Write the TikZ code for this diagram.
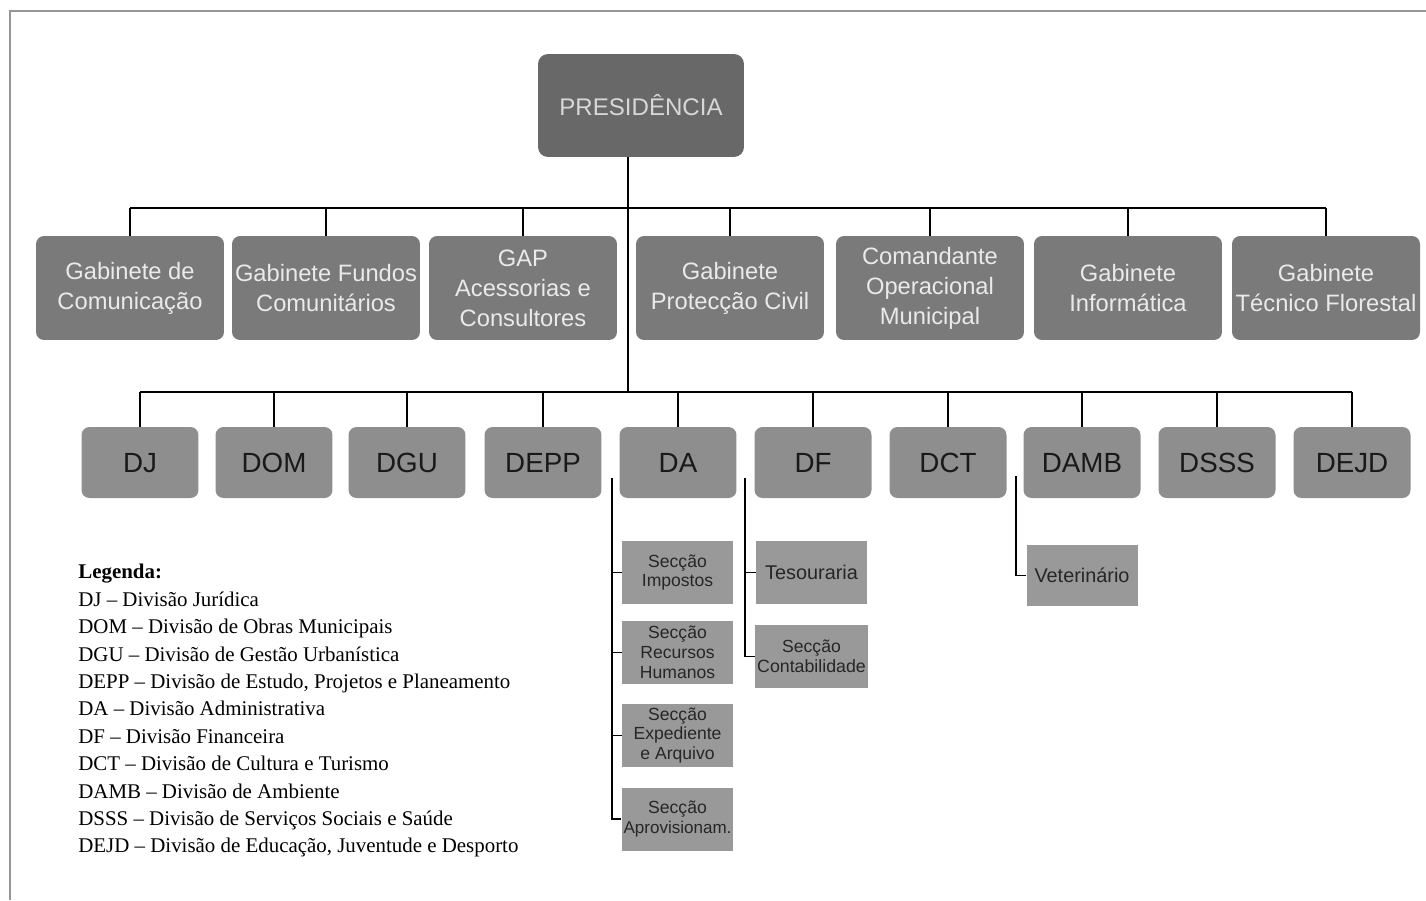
\documentclass[tikz,border=0pt]{standalone}
\usepackage{fontspec}
\setmainfont{Liberation Serif}
\setsansfont{Liberation Sans}
\definecolor{presfill}{RGB}{104,104,104}
\definecolor{gabfill}{RGB}{122,122,122}
\definecolor{divfill}{RGB}{142,142,142}
\definecolor{secfill}{RGB}{153,153,153}
\definecolor{lighttext}{RGB}{234,234,234}
\definecolor{framegray}{RGB}{150,150,150}
\tikzset{
  presbox/.style={fill=presfill, rounded corners=0.2cm, minimum width=4.12cm, minimum height=2.06cm,
    text=lighttext!92!black, font=\sffamily\fontsize{13.7}{16}\selectfont},
  gabbox/.style={fill=gabfill, rounded corners=0.16cm, minimum width=3.76cm, minimum height=2.08cm,
    inner sep=1pt, align=center, text=lighttext, font=\sffamily\fontsize{13.5}{17}\selectfont},
  divbox/.style={fill=divfill, rounded corners=0.16cm, minimum width=2.34cm, minimum height=1.42cm,
    text height=1.1em, text depth=0pt, text=black!90, font=\sffamily\fontsize{15.8}{18}\selectfont},
  secbox/.style={fill=secfill, minimum width=2.22cm, minimum height=1.26cm, inner sep=1pt,
    align=center, text=black!85, font=\sffamily\fontsize{10}{11.3}\selectfont},
  link/.style={draw=black, line width=1pt}
}

\begin{document}
\begin{tikzpicture}[x=0.02cm,y=-0.02cm]
  \useasboundingbox (0,0) rectangle (1426,900);
  \draw[framegray, line width=1.4pt] (10,900) -- (10,11) -- (1426,11);

  % top
  \node[presbox] (pres) at (641,105.5) {PRESIDÊNCIA};
  \coordinate (bus1) at (628,208);
  \coordinate (bus2) at (628,392);

  % gabinetes
  \foreach \n/\x/\t in {g1/130/{Gabinete de\\Comunicação},
                        g2/326/{Gabinete Fundos\\Comunitários},
                        g3/523/{GAP\\Acessorias e\\Consultores},
                        g4/730/{Gabinete\\Protecção Civil},
                        g5/930/{Comandante\\Operacional\\Municipal},
                        g6/1128/{Gabinete\\Informática},
                        g7/1326/{Gabinete\\Técnico Florestal}}
    \node[gabbox] (\n) at (\x,288) {\t};

  % divisoes
  \foreach \n/\x in {DJ/140,DOM/274,DGU/407,DEPP/543,DA/678,DF/813,DCT/948,DAMB/1082,DSSS/1217,DEJD/1352}
    \node[divbox] (\n) at (\x,462.5) {\n};

  \draw[link] (bus2 |- pres.south) -- (bus2);
  \draw[link] (g1.north |- bus1) -- (g7.north |- bus1);
  \foreach \n in {g1,g2,g3,g4,g5,g6,g7} \draw[link] (\n.north |- bus1) -- (\n.north);
  \draw[link] (DJ.north |- bus2) -- (DEJD.north |- bus2);
  \foreach \n in {DJ,DOM,DGU,DEPP,DA,DF,DCT,DAMB,DSSS,DEJD} \draw[link] (\n.north |- bus2) -- (\n.north);

  % seccoes
  \node[secbox] (imp) at (677.5,572.5) {Secção\\Impostos};
  \node[secbox] (rh) at (677.5,652.5) {Secção\\Recursos\\Humanos};
  \node[secbox] (exped) at (677.5,735.5) {Secção\\Expediente\\e Arquivo};
  \node[secbox] (aprov) at (677.5,819) {Secção\\{\fontsize{9.7}{11}\selectfont Aprovisionam.}};
  \node[secbox, font=\sffamily\fontsize{11.3}{13}\selectfont] (tes) at (811.5,572.5) {Tesouraria};
  \node[secbox] (cont) at (811.5,656.5) {Secção\\{\fontsize{10.1}{11.5}\selectfont Contabilidade}};
  \node[secbox, minimum height=1.22cm, font=\sffamily\fontsize{11.3}{13}\selectfont] (vet) at (1082,575.5) {Veterinário};

  \coordinate (daspine) at (612,478);
  \coordinate (dfspine) at (745,478);
  \coordinate (ambspine) at (1016,476);
  \draw[link] (daspine) |- (aprov.west);
  \foreach \n in {imp,rh,exped} \draw[link] (daspine |- \n.west) -- (\n.west);
  \draw[link] (dfspine) |- (cont.west);
  \draw[link] (dfspine |- tes.west) -- (tes.west);
  \draw[link] (ambspine) |- (vet.west);

  % legenda
  \node[anchor=north west, inner sep=0pt, align=left, font=\fontsize{11.9}{15.6}\selectfont] (leg) at (78,564)
    {\textbf{Legenda:}\\
     DJ – Divisão Jurídica\\
     DOM – Divisão de Obras Municipais\\
     DGU – Divisão de Gestão Urbanística\\
     DEPP – Divisão de Estudo, Projetos e Planeamento\\
     DA – Divisão Administrativa\\
     DF – Divisão Financeira\\
     DCT – Divisão de Cultura e Turismo\\
     DAMB – Divisão de Ambiente\\
     DSSS – Divisão de Serviços Sociais e Saúde\\
     DEJD – Divisão de Educação, Juventude e Desporto};
\end{tikzpicture}
\end{document}
